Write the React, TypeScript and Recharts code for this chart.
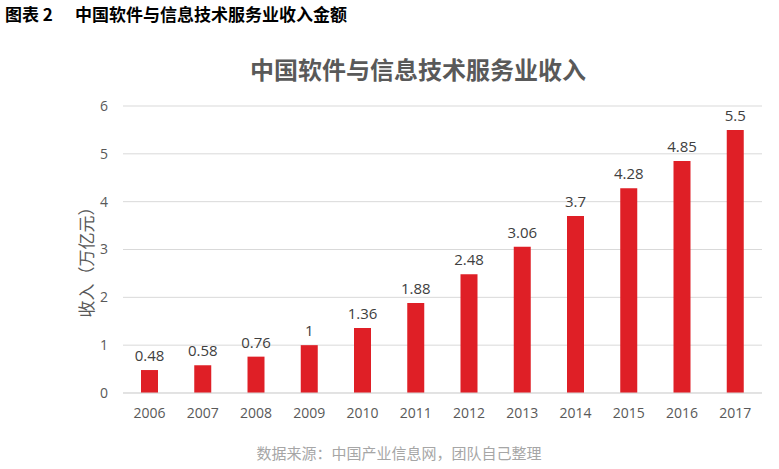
import React from "react";
import { BarChart, Bar, XAxis, YAxis, CartesianGrid, LabelList } from "recharts";

const years = ["2006", "2007", "2008", "2009", "2010", "2011", "2012", "2013", "2014", "2015", "2016", "2017"];
const revenue = [0.48, 0.58, 0.76, 1, 1.36, 1.88, 2.48, 3.06, 3.7, 4.28, 4.85, 5.5];
const yTicks = [0, 1, 2, 3, 4, 5, 6];

const data = years.map((year, i) => ({ year, value: revenue[i] }));

const numFont = '"Open Sans", "Noto Sans", sans-serif';
const cjkFont = '"Noto Sans CJK SC", "Noto Sans", sans-serif';

export default function App() {
  return (
    <div
      style={{
        position: "absolute",
        left: 0,
        top: 0,
        width: 779,
        height: 469,
        background: "#fff",
        fontFamily: cjkFont,
      }}
    >
      <div
        style={{
          position: "absolute",
          left: 5,
          top: 1,
          fontSize: 17,
          fontWeight: 700,
          color: "#000",
          whiteSpace: "pre",
        }}
      >
        {"图表 2"}
        <span style={{ marginLeft: 22 }}>中国软件与信息技术服务业收入金额</span>
      </div>
      <div
        style={{
          position: "absolute",
          left: 0,
          width: 836,
          top: 51,
          textAlign: "center",
          fontSize: 24,
          fontWeight: 700,
          color: "#595959",
        }}
      >
        中国软件与信息技术服务业收入
      </div>
      <div
        style={{
          position: "absolute",
          left: 0,
          width: 798,
          top: 442,
          textAlign: "center",
          fontSize: 15,
          color: "#a6a6a6",
        }}
      >
        数据来源：中国产业信息网，团队自己整理
      </div>
      <div
        style={{
          position: "absolute",
          left: 85,
          top: 258,
          transform: "translate(-50%, -50%) rotate(-90deg)",
          fontSize: 17,
          color: "#595959",
          whiteSpace: "nowrap",
        }}
      >
        收入（万亿元）
      </div>
      <div style={{ position: "absolute", left: 0, top: 0 }}>
        <BarChart
          width={779}
          height={469}
          data={data}
          margin={{ top: 106, right: 17, left: 83, bottom: 46 }}
        >
          <CartesianGrid vertical={false} stroke="#d9d9d9" />
          <XAxis
            dataKey="year"
            height={30}
            axisLine={{ stroke: "#d9d9d9" }}
            tickLine={false}
            tickMargin={9}
            tick={{ fill: "#595959", fontSize: 14, fontFamily: numFont }}
          />
          <YAxis
            width={40}
            domain={[0, 6]}
            ticks={yTicks}
            axisLine={false}
            tickLine={false}
            tickMargin={9}
            tick={{ fill: "#595959", fontSize: 14, fontFamily: numFont }}
          />
          <Bar dataKey="value" fill="#df1f26" barSize={17} isAnimationActive={false}>
            <LabelList
              dataKey="value"
              position="top"
              offset={9}
              fill="#404040"
              fontSize={15}
              fontFamily={numFont}
            />
          </Bar>
        </BarChart>
      </div>
    </div>
  );
}
